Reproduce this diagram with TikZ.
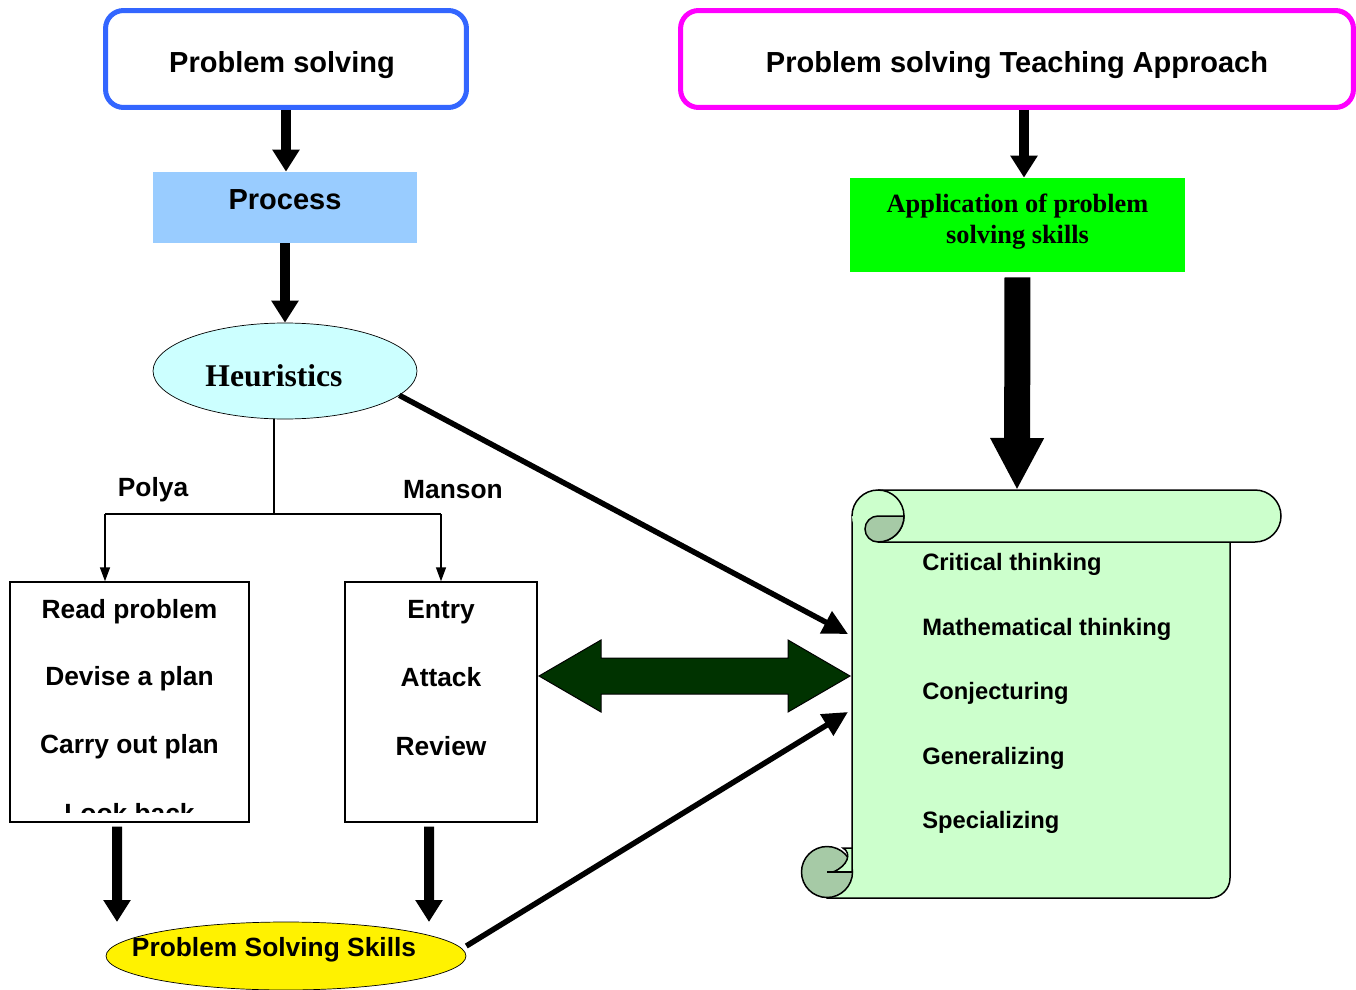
\documentclass[tikz,border=0pt]{standalone}
\usepackage{fontspec}
\setmainfont{Liberation Serif}
\setsansfont{Liberation Sans}
\usetikzlibrary{arrows.meta,shapes.geometric}

\definecolor{psblue}{RGB}{51,102,255}
\definecolor{psmagenta}{RGB}{255,0,255}
\definecolor{procblue}{RGB}{153,204,255}
\definecolor{heurcyan}{RGB}{204,255,255}
\definecolor{appgreen}{RGB}{0,255,0}
\definecolor{scrolllight}{RGB}{204,255,204}
\definecolor{scrolldark}{RGB}{166,202,166}
\definecolor{dblgreen}{RGB}{0,51,0}

\tikzset{
  titlebox/.style={draw, line width=0.1cm, rounded corners=0.36cm, fill=white},
  titletext/.style={font=\sffamily\bfseries\fontsize{16.5}{20}\selectfont},
  fatarrow/.style={line width=0.2cm, -{Triangle[width=0.52cm,length=0.44cm]}},
  thinarrow/.style={line width=0.03cm, -{Triangle[width=0.2cm,length=0.28cm]}},
  linkarrow/.style={line width=0.11cm, -{Triangle[width=0.48cm,length=0.5cm]}},
  steptext/.style={font=\sffamily\bfseries\fontsize{15}{18}\selectfont},
  skilltext/.style={anchor=west, inner sep=0pt, font=\sffamily\bfseries\fontsize{13.5}{16}\selectfont},
}

\begin{document}
\begin{tikzpicture}[x=0.02cm, y=-0.02cm]
  \useasboundingbox (0,0) rectangle (1356,990);

  % Top boxes
  \node[titlebox, draw=psblue, minimum width=7.22cm, minimum height=1.94cm] (ps) at (286,59) {};
  \node[titletext] (pslbl) at (282,65) {Problem solving};
  \node[titlebox, draw=psmagenta, minimum width=13.46cm, minimum height=1.94cm] (pst) at (1017,59) {};
  \node[titletext] (pstlbl) at (1017,65) {Problem solving Teaching Approach};

  \node[fill=procblue, minimum width=5.28cm, minimum height=1.42cm] (proc) at (285,207.5) {};
  \node[titletext] (proclbl) at (285,200) {Process};
  \node[fill=appgreen, minimum width=6.7cm, minimum height=1.88cm] (app) at (1017.5,225) {};
  \node[align=center, font=\rmfamily\bfseries\fontsize{15}{17.6}\selectfont] (applbl) at (1017.5,222)
    {Application of problem\\solving skills};

  \node[ellipse, draw, fill=heurcyan, minimum width=5.28cm, minimum height=1.92cm, inner sep=0pt] (heur) at (285,371) {};
  \node[font=\rmfamily\bfseries\fontsize{18}{20}\selectfont] (heurlbl) at (274,376) {Heuristics};

  % Scroll (drawn directly)
  \filldraw[fill=scrolllight, line width=0.03cm] (852,516) -- (852,872) -- (827,872) -- (827,898) -- (1210,898)
    arc[start angle=90, end angle=0, radius=20] -- (1230,516) -- cycle;
  \filldraw[fill=scrolllight, line width=0.03cm] (878,490) -- (1255,490)
    arc[start angle=270, end angle=450, radius=26] -- (878,542);
  \fill[scrolllight] (878,516) circle[radius=26];
  \draw[line width=0.03cm] (852,516) arc[start angle=180, end angle=450, radius=26];
  \filldraw[fill=scrolldark, line width=0.03cm] (878,516) -- (904,516)
    arc[start angle=0, end angle=90, radius=26] arc[start angle=90, end angle=270, radius=13] -- cycle;
  \filldraw[fill=scrolldark, line width=0.03cm] (827,872) circle[radius=25.5];
  \fill[scrolllight] (843,848) -- (852,848) -- (852,872) -- (833,872) .. controls (848,866) and (852,853) .. (843,848) -- cycle;
  \draw[line width=0.03cm] (852,872) -- (852,848) -- (843,848) .. controls (852,853) and (848,866) .. (833,872);
  \draw[line width=0.03cm] (827,872) -- (852,872);

  \foreach \y/\txt [count=\i] in {564/Critical thinking, 629/Mathematical thinking, 693/Conjecturing,
      758/Generalizing, 822/Specializing}
    \node[skilltext] (sk\i) at (922,\y) {\txt};

  \coordinate (scrtop) at (1017,490);
  \coordinate (scrin1) at (848,634);
  \coordinate (scrin2) at (848,712);

  % Polya / Manson branch
  \coordinate (fork) at (274,514);
  \coordinate (lbr) at (105,514);
  \coordinate (rbr) at (441,514);
  \node[steptext] (polyalbl) at (153,490) {Polya};
  \node[steptext] (mansonlbl) at (453,490) {Manson};

  \node[draw, line width=0.03cm, minimum width=4.78cm, minimum height=4.8cm] (polya) at (129.5,702) {};
  \node[draw, line width=0.03cm, minimum width=3.84cm, minimum height=4.8cm] (manson) at (441,702) {};

  \node[steptext] (rp) at (129.5,612) {Read problem};
  \node[steptext] (dp) at (129.5,679) {Devise a plan};
  \node[steptext] (cp) at (129.5,747) {Carry out plan};
  \begin{scope}
    \clip (10,582) rectangle (249,812);
    \node[steptext] (lb) at (129.5,813) {Look back};
  \end{scope}

  \node[steptext] (en) at (441,612) {Entry};
  \node[steptext] (at) at (441,677) {Attack};
  \node[steptext] (rv) at (441,746) {Review};

  \draw[line width=0.03cm] (fork |- heur.south) -- (fork);
  \draw[line width=0.03cm] (lbr) -- (rbr);
  \draw[thinarrow] (lbr) -- (polya.north -| lbr);
  \draw[thinarrow] (rbr) -- (manson.north);

  \node[ellipse, draw, fill=yellow, minimum width=7.2cm, minimum height=1.36cm, inner sep=0pt] (skills) at (286,956) {};
  \node[steptext] (skillslbl) at (274,950) {Problem Solving Skills};

  \coordinate (polyaend) at (117,922);
  \coordinate (mansonend) at (429,922);

  % Block arrows
  \draw[fatarrow] (ps.south) -- (ps.south |- proc.north);
  \draw[fatarrow] (proc.south) -- (proc.south |- heur.north);
  \draw[fatarrow] ([xshift=0.14cm]pst.south) -- ([xshift=0.14cm]pst.south |- app.north);
  \draw[line width=0.52cm, -{Triangle[width=1.0cm,length=1.04cm]}, shorten <=0.1cm] (app.south) -- (scrtop);
  \draw[fatarrow, shorten <=0.08cm] ([xshift=-0.25cm]polya.south) -- (polyaend);
  \draw[fatarrow, shorten <=0.08cm] ([xshift=-0.24cm]manson.south) -- (mansonend);

  \draw[linkarrow] (heur.-12) -- (scrin1);
  \draw[linkarrow] ([yshift=0.2cm]skills.east) -- (scrin2);

  % Double arrow
  \draw[fill=dblgreen, line width=0.02cm] (539,676) -- (601,640) -- (601,658) -- (788,658) -- (788,640)
    -- (850,676) -- (788,712) -- (788,694) -- (601,694) -- (601,712) -- cycle;
\end{tikzpicture}
\end{document}
